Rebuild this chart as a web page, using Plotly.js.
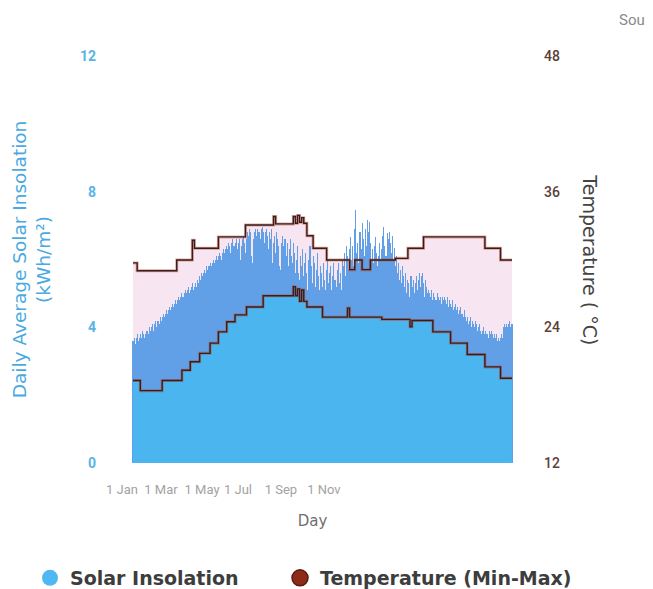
<!DOCTYPE html>
<html>
<head>
<meta charset="utf-8">
<script src="https://cdn.plot.ly/plotly-3.0.1.min.js"></script>
<style>
html,body{margin:0;padding:0;background:#fff;}
#chart{width:653px;height:589px;}
</style>
</head>
<body>
<div id="chart"></div>
<script>
// Daily average solar insolation (kWh/m²), day 1..365
const insolation = [
3.6,3.7,3.5,3.7,3.8,3.6,3.7,3.8,3.7,3.9,3.8,3.7,3.8,3.9,3.9,
3.8,4.0,3.9,4.0,4.1,3.9,4.1,4.2,4.0,4.2,4.1,4.3,4.2,4.3,4.4,
4.3,4.4,4.5,4.4,4.5,4.6,4.5,4.6,4.7,4.6,4.7,4.8,4.7,4.8,4.9,
4.8,4.9,5.0,4.9,5.0,5.1,5.0,5.1,5.2,5.0,5.1,5.2,5.3,5.1,5.2,
5.3,5.2,5.4,5.3,5.5,5.4,5.6,5.5,5.6,5.7,5.6,5.8,5.7,5.8,5.9,
5.8,5.9,6.0,5.9,6.0,6.1,6.0,6.1,6.2,6.1,6.0,6.2,6.3,6.2,6.3,
6.4,6.3,6.5,6.4,6.2,6.5,6.6,6.4,6.5,6.6,6.3,6.5,6.6,6.0,6.4,
6.6,6.7,6.5,6.2,6.6,6.8,6.7,6.9,6.8,6.1,5.9,6.6,6.8,6.9,6.7,
6.9,6.8,6.6,6.9,6.95,6.8,6.5,6.8,6.9,6.7,6.3,6.8,6.6,6.9,5.9,
6.5,6.7,6.2,6.8,6.6,6.4,5.8,5.7,6.5,6.7,6.4,6.6,6.1,6.5,5.8,
6.3,6.6,6.1,5.9,6.5,6.2,5.6,6.0,6.4,5.6,5.4,6.1,5.8,6.3,5.5,
5.9,6.2,5.6,5.1,6.0,6.4,5.8,5.3,6.1,5.9,5.2,5.7,6.2,5.5,5.1,
5.8,5.6,5.2,5.9,5.4,5.1,5.7,6.0,5.3,5.6,5.8,5.1,5.5,5.9,5.4,
5.2,5.7,5.9,5.3,5.6,5.1,6.0,5.8,6.2,5.5,6.4,6.1,5.7,6.3,6.66,
6.0,6.4,5.8,6.9,7.46,6.2,6.5,5.9,6.8,6.3,7.07,6.6,6.1,6.9,6.4,
7.16,6.8,7.1,6.5,6.0,6.3,5.9,6.4,6.66,6.2,5.8,6.1,6.5,6.0,6.3,
6.7,6.96,6.4,6.1,6.78,6.6,6.8,6.5,6.2,6.7,6.0,6.33,5.8,6.1,5.6,
5.9,5.4,5.7,5.3,5.8,5.5,5.2,5.6,5.0,5.4,5.3,4.9,5.5,5.2,5.4,
5.0,5.3,5.5,5.1,5.4,5.6,5.2,5.5,5.6,5.3,4.9,5.4,5.2,5.0,5.1,
5.0,4.9,5.1,4.8,5.0,4.9,4.8,5.0,4.9,4.8,4.9,4.7,4.9,4.8,4.9,
4.8,4.7,4.9,4.6,4.8,4.7,4.6,4.8,4.5,4.6,4.7,4.5,4.6,4.4,4.5,
4.6,4.4,4.3,4.5,4.3,4.2,4.3,4.1,4.2,4.3,4.0,4.2,4.1,4.0,4.2,
4.1,3.9,4.0,4.1,3.9,3.8,3.9,4.0,3.8,3.9,3.8,3.7,3.9,3.8,3.9,
3.8,3.7,3.8,3.7,3.8,3.6,3.7,3.6,3.7,3.8,3.7,4.0,4.1,4.0,4.1,
4.0,4.1,4.2,4.0,4.1
];
const days = insolation.map((_, i) => i + 1);

// Temperature max (°C): day where each step starts, and its value
const maxDays = [1, 5, 43, 58, 60, 83, 109, 136, 138, 155, 157, 159, 161, 163, 165, 168, 174, 187, 209, 214, 221, 229, 253, 265, 280, 339, 354, 365];
const maxTemp = [29.7, 29.0, 29.95, 31.7, 31.0, 32.0, 33.05, 33.8, 33.15, 33.8, 33.2, 33.9, 33.3, 33.7, 33.2, 32.1, 31.0, 29.95, 29.1, 29.95, 29.1, 29.95, 30.1, 31.0, 32.0, 31.0, 29.95, 29.95];

// Temperature min (°C)
const minDays = [1, 8, 29, 48, 56, 65, 75, 83, 91, 99, 110, 126, 155, 157, 159, 161, 163, 165, 168, 183, 207, 209, 240, 267, 269, 289, 306, 322, 339, 354, 365];
const minTemp = [19.3, 18.4, 19.3, 20.2, 20.96, 21.7, 22.6, 23.6, 24.5, 25.1, 25.8, 26.8, 27.6, 26.8, 27.4, 26.3, 27.3, 26.3, 25.8, 24.9, 25.7, 24.9, 24.7, 24.05, 24.6, 23.6, 22.6, 21.6, 20.5, 19.5, 19.5];

// Axis tick labels
const xTickPos = [-9.6, 27.9, 67.3, 101.8, 143.1, 184.4];
const xTickText = ['1 Jan', '1 Mar', '1 May', '1 Jul', '1 Sep', '1 Nov'];
const solarTicks = [0, 4, 8, 12];
const tempTicks = [12, 24, 36, 48];

const FONT = 'Roboto, "Open Sans", sans-serif';
const WIDE = '"DejaVu Sans", sans-serif';
const BRIGHT_BLUE = '#4ab5ef';
const MID_BLUE = 'rgb(97,160,230)';
const PINK = 'rgb(247,229,241)';

const traces = [
  // pink min-max band (base layer, temperature axis)
  {x: minDays, y: minTemp, type: 'scatter', mode: 'lines', line: {width: 0, shape: 'hv'},
   xaxis: 'x', yaxis: 'y', showlegend: false, hoverinfo: 'skip'},
  {x: maxDays, y: maxTemp, type: 'scatter', mode: 'lines', line: {width: 0, shape: 'hv'},
   fill: 'tonexty', fillcolor: PINK, xaxis: 'x', yaxis: 'y', showlegend: false, hoverinfo: 'skip'},
  // daily solar insolation bars
  {x: days, y: insolation, type: 'bar', marker: {color: MID_BLUE, line: {width: 0}},
   width: 1, xaxis: 'x', yaxis: 'y2', showlegend: false},
  // area under min temperature
  {x: minDays, y: minTemp, type: 'scatter', mode: 'lines', line: {width: 0, shape: 'hv'},
   fill: 'tozeroy', fillcolor: BRIGHT_BLUE, xaxis: 'x', yaxis: 'y3', showlegend: false, hoverinfo: 'skip'},
  // lines halo
  {x: minDays, y: minTemp, type: 'scatter', mode: 'lines',
   line: {width: 3, shape: 'hv', color: 'rgba(190,65,35,0.45)'}, xaxis: 'x', yaxis: 'y3', showlegend: false},
  {x: maxDays, y: maxTemp, type: 'scatter', mode: 'lines',
   line: {width: 3, shape: 'hv', color: 'rgba(190,65,35,0.45)'}, xaxis: 'x', yaxis: 'y3', showlegend: false},
  // lines core
  {x: minDays, y: minTemp, type: 'scatter', mode: 'lines',
   line: {width: 1.4, shape: 'hv', color: 'rgb(55,30,30)'}, xaxis: 'x', yaxis: 'y3', showlegend: false},
  {x: maxDays, y: maxTemp, type: 'scatter', mode: 'lines',
   line: {width: 1.4, shape: 'hv', color: 'rgb(55,30,30)'}, xaxis: 'x', yaxis: 'y3', showlegend: false},
  // legend entries
  {x: [null], y: [null], type: 'scatter', mode: 'markers', name: 'Solar Insolation', legend: 'legend',
   marker: {size: 16, color: '#4db8f2', symbol: 'circle'}, xaxis: 'x', yaxis: 'y2'},
  {x: [null], y: [null], type: 'scatter', mode: 'markers', name: 'Temperature (Min-Max)', legend: 'legend2',
   marker: {size: 16, color: '#8e2a18', symbol: 'circle', line: {width: 1.5, color: '#5a1a10'}}, xaxis: 'x', yaxis: 'y3'}
];

const legendBase = {
  orientation: 'h', xref: 'container', yref: 'container',
  xanchor: 'left', yanchor: 'middle', y: 0.0187,
  font: {size: 19, color: '#3d3d3d', family: WIDE, weight: 700},
  bgcolor: 'rgba(0,0,0,0)'
};

const layout = {
  width: 653, height: 589,
  margin: {l: 105, r: 133, t: 56, b: 126, autoexpand: false},
  paper_bgcolor: '#fff', plot_bgcolor: '#fff',
  font: {family: FONT},
  bargap: 0,
  showlegend: true,
  xaxis: {
    range: [-25.9, 372.7], showgrid: false, zeroline: false, showline: false,
    tickmode: 'array', tickvals: xTickPos, ticktext: xTickText,
    ticks: '', ticklabelstandoff: 17, automargin: false,
    tickfont: {size: 13, color: '#a3a3a3', family: FONT},
    title: {text: 'Day', font: {size: 15, color: '#6f6f6f', family: WIDE}, standoff: 19}
  },
  yaxis: {
    range: [12, 48], side: 'right', showgrid: false, zeroline: false, showline: false,
    tickmode: 'array', tickvals: tempTicks, ticks: '', ticklabelstandoff: 23, automargin: false,
    tickfont: {size: 14, color: '#5d4037', family: FONT, weight: 500}
  },
  yaxis2: {
    range: [0, 12], overlaying: 'y', side: 'left', showgrid: false, zeroline: false, showline: false,
    tickmode: 'array', tickvals: solarTicks, ticks: '', ticklabelstandoff: 8, automargin: false,
    tickfont: {size: 14, color: '#5ab3e6', family: FONT, weight: 700},
    title: {text: 'Daily Average Solar Insolation<br>(kWh/m²)', font: {size: 18.5, color: '#4aa9e0', family: WIDE}, standoff: 24}
  },
  yaxis3: {
    range: [12, 48], overlaying: 'y', side: 'right', visible: false
  },
  legend: Object.assign({}, legendBase, {x: 30 / 653}),
  legend2: Object.assign({}, legendBase, {x: 280 / 653}),
  annotations: [
    {text: 'Temperature ( °C)', textangle: 90, xref: 'paper', yref: 'paper', x: 1.169, y: 0.5,
     xanchor: 'center', yanchor: 'middle', showarrow: false,
     font: {size: 19, color: '#444', family: WIDE}},
    {text: 'Sou', xref: 'paper', yref: 'paper', x: 1.234, y: 1.088, xanchor: 'left', yanchor: 'middle',
     showarrow: false, font: {size: 15, color: '#8a8a8a', family: FONT}}
  ]
};

Plotly.newPlot('chart', traces, layout, {displayModeBar: false, staticPlot: true});
</script>
</body>
</html>
